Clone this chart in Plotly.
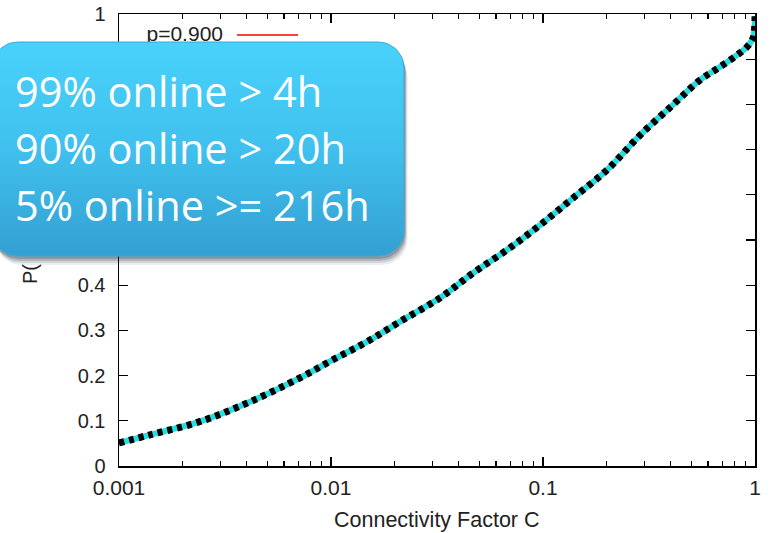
import numpy as np
import plotly.graph_objects as go

# ---- data ----
conn_factor = [0.001, 0.0014, 0.0024, 0.00415, 0.00714, 0.0102, 0.0148, 0.0211,
               0.0327, 0.0468, 0.0676, 0.0968, 0.1387, 0.2005, 0.287, 0.410,
               0.551, 0.684, 0.822, 0.916, 0.979, 0.996, 1.0]
p_connected = [0.051, 0.069, 0.098, 0.142, 0.195, 0.235, 0.275, 0.319,
               0.372, 0.427, 0.478, 0.533, 0.593, 0.655, 0.732, 0.799,
               0.854, 0.883, 0.909, 0.927, 0.947, 0.969, 0.995]
x_tickvals = [0.001, 0.01, 0.1, 1]
x_ticktext = ["0.001", "0.01", "0.1", "1"]
x_minor_ticks = [m * d for d in (0.001, 0.01, 0.1) for m in range(2, 10)]
y_tickvals = [0, 0.1, 0.2, 0.3, 0.4, 0.5, 0.6, 0.7, 0.8, 0.9, 1]
# labels 0.5 ... 0.9 are hidden behind the callout in the reference
y_ticktext = ["0", "0.1", "0.2", "0.3", "0.4", "", "", "", "", "", "1"]
legend_label = "p=0.900"
x_title = "Connectivity Factor C"
y_title_visible = "P("
callout_lines = ["99% online > 4h", "90% online > 20h", "5% online >= 216h"]

W, H = 771, 533
# plot area in pixels
PL, PR, PT, PB = 119, 755, 14, 466

fig = go.Figure()

# overlapping series (drawn bottom to top)
styles = [
    dict(color="red", width=2, dash="solid"),
    dict(color="#00a000", width=2, dash="solid"),
    dict(color="blue", width=2, dash="solid"),
    dict(color="#22e0e0", width=6, dash="solid"),
    dict(color="#a040e0", width=6, dash="2px,8px"),
    dict(color="black", width=7, dash="5px,5px"),
]
for st in styles:
    fig.add_trace(go.Scatter(x=conn_factor, y=p_connected, mode="lines",
                             line=dict(shape="spline", smoothing=1.0, **st),
                             showlegend=False, hoverinfo="skip",
                             xaxis="x", yaxis="y"))

# ---- overlay (pixel) subplot for legend + callout ----
def rrect(x0, y0, x1, y1, r, n=12):
    xs, ys = [], []
    corners = [(x1 - r, y0 + r, -90, 0), (x1 - r, y1 - r, 0, 90),
               (x0 + r, y1 - r, 90, 180), (x0 + r, y0 + r, 180, 270)]
    for cx, cy, a0, a1 in corners:
        a = np.radians(np.linspace(a0, a1, n))
        xs += list(cx + r * np.cos(a))
        ys += list(cy + r * np.sin(a))
    xs.append(xs[0]); ys.append(ys[0])
    return xs, ys

# legend text and sample line
fig.add_trace(go.Scatter(x=[223], y=[36], mode="text", text=[legend_label],
                         textposition="middle left",
                         textfont=dict(family="Liberation Sans", size=21, color="#222"),
                         showlegend=False, hoverinfo="skip", xaxis="x2", yaxis="y2"))
fig.add_trace(go.Scatter(x=[237, 298], y=[35, 35], mode="lines",
                         line=dict(color="red", width=1.5),
                         showlegend=False, hoverinfo="skip", xaxis="x2", yaxis="y2"))

BX0, BY0, BX1, BY1, BR = -8, 42, 404, 256, 26
# shadow
for off, alpha in [(9, 0.08), (7, 0.12), (5, 0.18), (3, 0.22)]:
    sx, sy = rrect(BX0 + off * 0.4, BY0 + off, BX1 + off * 0.4, BY1 + off, BR)
    fig.add_trace(go.Scatter(x=sx, y=sy, mode="lines", fill="toself",
                             fillcolor=f"rgba(20,40,60,{alpha})", line=dict(width=0),
                             showlegend=False, hoverinfo="skip", xaxis="x2", yaxis="y2"))
bx, by = rrect(BX0, BY0, BX1, BY1, BR)
fig.add_trace(go.Scatter(x=bx, y=by, mode="lines", fill="toself",
                         fillgradient=dict(type="vertical",
                                           colorscale=[[0, "#48d2fb"], [0.5, "#40c0ee"], [1, "#33a0d2"]],
                                           start=BY0, stop=BY1),
                         line=dict(width=1, color="#3aa8d8"),
                         showlegend=False, hoverinfo="skip", xaxis="x2", yaxis="y2"))

fig.update_layout(
    width=W, height=H,
    margin=dict(l=0, r=0, t=0, b=0, autoexpand=False),
    paper_bgcolor="white", plot_bgcolor="rgba(0,0,0,0)",
    showlegend=False,
    font=dict(family="Liberation Sans", size=20, color="#222"),
    xaxis=dict(type="log", range=[-3, 0], domain=[PL / W, PR / W],
               tickvals=x_tickvals, ticktext=x_ticktext,
               tickfont=dict(size=21),
               ticks="inside", ticklen=9, tickwidth=1.2, tickcolor="black",
               ticklabelstandoff=2,
               minor=dict(ticks="inside", ticklen=5, tickcolor="black",
                          tickvals=x_minor_ticks, showgrid=False),
               showline=True, linecolor="black", linewidth=1.5, mirror="allticks",
               showgrid=False, zeroline=False, automargin=False,
               anchor="y"),
    yaxis=dict(range=[0, 1], domain=[1 - PB / H, 1 - PT / H],
               tickvals=y_tickvals, ticktext=y_ticktext,
               tickfont=dict(size=20),
               ticks="inside", ticklen=9, tickwidth=1.2, tickcolor="black",
               ticklabelstandoff=8,
               showline=True, linecolor="black", linewidth=1.5, mirror="allticks",
               showgrid=False, zeroline=False, automargin=False,
               anchor="x"),
    xaxis2=dict(range=[0, W], domain=[0, 1], visible=False, anchor="y2", automargin=False),
    yaxis2=dict(range=[H, 0], domain=[0, 1], visible=False, anchor="x2", automargin=False),
)

# axis titles
fig.add_annotation(x=(PL + PR) / 2, y=520, xref="x2", yref="y2", text=x_title,
                   showarrow=False, xanchor="center", yanchor="middle",
                   font=dict(family="Liberation Sans", size=21.5, color="#222"))
fig.add_annotation(x=30, y=274, xref="x2", yref="y2", text=y_title_visible,
                   showarrow=False, textangle=-90, xanchor="center", yanchor="middle",
                   font=dict(family="Liberation Sans", size=20, color="#222"))

for txt, yc in zip(callout_lines, [91, 148, 205]):
    fig.add_annotation(x=13, y=yc, xref="x2", yref="y2", text=txt, showarrow=False,
                       xanchor="left", yanchor="middle",
                       font=dict(family="Open Sans", size=41.5, color="white"))

fig.write_html("out.html", config={"displayModeBar": False, "staticPlot": True},
               post_script="document.body.style.margin='0';")
